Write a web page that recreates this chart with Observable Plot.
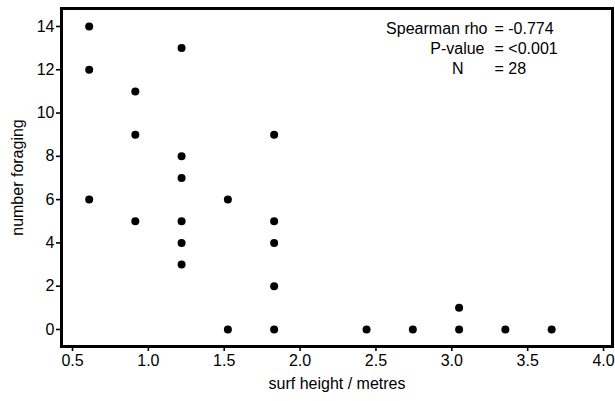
<!DOCTYPE html>
<html>
<head>
<meta charset="utf-8">
<script src="https://cdn.jsdelivr.net/npm/d3@7"></script>
<script src="https://cdn.jsdelivr.net/npm/@observablehq/plot@0.6"></script>
<style>
  html, body { margin: 0; padding: 0; background: #fff; }
</style>
</head>
<body>
<div id="chart"></div>
<script>
// Surf height (metres) and number of birds foraging
const surfHeight = [0.61, 0.61, 0.61, 0.914, 0.914, 0.914, 1.219, 1.219, 1.219, 1.219, 1.219, 1.219,
  1.524, 1.524, 1.829, 1.829, 1.829, 1.829, 1.829, 2.438, 2.743, 3.048, 3.048, 3.353, 3.658];
const numberForaging = [14, 12, 6, 11, 9, 5, 13, 8, 7, 5, 4, 3,
  6, 0, 9, 5, 4, 2, 0, 0, 0, 1, 0, 0, 0];
const xTicks = [0.5, 1.0, 1.5, 2.0, 2.5, 3.0, 3.5, 4.0];
const yTicks = [0, 2, 4, 6, 8, 10, 12, 14];
const statLabels = ["Spearman rho", "P-value", "N"];
const statValues = ["= -0.774", "= <0.001", "= 28"];

const data = surfHeight.map((x, i) => ({x, y: numberForaging[i]}));
const stats = statLabels.map((label, i) => ({label, value: statValues[i]}));

const W = 615, H = 401;
const mL = 61, mT = 8, mR = 3, mB = 55;
const labelEnds = [487, 484, 463];
const valueStart = 494;
const FS = 16;

const statMarks = stats.map((d, i) => [
  Plot.text([d], {text: "label", frameAnchor: "top-left", textAnchor: "end", lineAnchor: "middle",
    dx: labelEnds[i] - mL, dy: 20 + 20 * i, fontSize: FS, fill: "black"}),
  Plot.text([d], {text: "value", frameAnchor: "top-left", textAnchor: "start", lineAnchor: "middle",
    dx: valueStart - mL, dy: 20 + 20 * i, fontSize: FS, fill: "black"})
]).flat();

const chart = Plot.plot({
  width: W,
  height: H,
  marginLeft: mL,
  marginTop: mT,
  marginRight: mR,
  marginBottom: mB,
  style: {fontFamily: "'Liberation Sans', Arial, sans-serif", fontSize: FS + "px", color: "black", background: "white"},
  x: {domain: [0.4275, 4.059]},
  y: {domain: [-0.786, 14.83]},
  marks: [
    Plot.axisX({ticks: xTicks, tickSize: 5, tickPadding: 3, tickFormat: d => d.toFixed(1), strokeWidth: 1.6,
      label: "surf height / metres", labelAnchor: "center", labelArrow: "none", labelOffset: 42, fontSize: FS}),
    Plot.axisY({ticks: yTicks, tickSize: 5, tickPadding: 2, tickFormat: d => String(d), strokeWidth: 1.6,
      label: "number foraging", labelAnchor: "center", labelArrow: "none", labelOffset: 50, fontSize: FS}),
    Plot.frame({stroke: "black", strokeWidth: 3}),
    Plot.dot(data, {x: "x", y: "y", r: 4, fill: "black", stroke: "none"}),
    ...statMarks
  ]
});

document.getElementById("chart").appendChild(chart);
</script>
</body>
</html>
